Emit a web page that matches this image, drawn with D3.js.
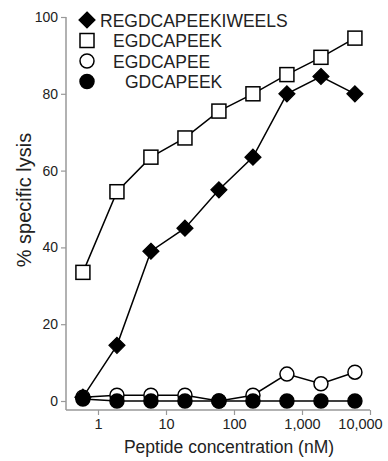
<!DOCTYPE html>
<html>
<head>
<meta charset="utf-8">
<script src="https://cdn.jsdelivr.net/npm/d3@7"></script>
<style>
body{margin:0;background:#fff;}
text{font-family:"Liberation Sans",Arial,sans-serif;fill:#222;}
</style>
</head>
<body>
<div id="chart"></div>
<script>
// concentrations in nM
var conc = [0.6, 1.9, 6, 19, 60, 190, 600, 1900, 6000];
var xTicks = [1, 10, 100, 1000, 10000];
var yTicks = [0, 20, 40, 60, 80, 100];

var diamondVals = [1, 14.5, 39, 45, 55, 63.5, 80, 84.5, 80];
var squareVals = [33.5, 54.5, 63.5, 68.5, 75.5, 80, 85, 89.5, 94.5];
var openVals = [1, 1.5, 1.5, 1.5, 0, 1.5, 7, 4.5, 7.5];
var filledVals = [0.5, 0, 0, 0, 0, 0, 0, 0, 0];

var legendNames = ["REGDCAPEEKIWEELS", "EGDCAPEEK", "EGDCAPEE", "GDCAPEEK"];

var width = 388, height = 461;

var svg = d3.select("#chart").append("svg")
	.attr("width", width)
	.attr("height", height);

var x = d3.scaleLog().domain([1, 10000]).range([98, 370]);
var y = d3.scaleLinear().domain([0, 100]).range([401, 17]);

var axisColor = "#999";

// y axis
var yAxis = d3.axisLeft(y).tickValues(yTicks).tickSize(5).tickPadding(3);
var gy = svg.append("g")
	.attr("transform", "translate(66,0)")
	.call(yAxis);
gy.select(".domain").remove();
gy.append("line")
	.attr("x1", 0).attr("x2", 0)
	.attr("y1", y(100)).attr("y2", 410)
	.attr("stroke", axisColor).attr("stroke-width", 1.5);
gy.selectAll(".tick line").attr("stroke", axisColor).attr("stroke-width", 1.2);
gy.selectAll(".tick text").style("font-size", "14px").attr("fill", "#222");

// x axis
var xAxis = d3.axisBottom(x).tickValues(xTicks).tickSize(5).tickPadding(4)
	.tickFormat(d3.format(","));
var gx = svg.append("g")
	.attr("transform", "translate(0,410)")
	.call(xAxis);
gx.select(".domain").remove();
gx.append("line")
	.attr("x1", 66).attr("x2", x(10000))
	.attr("y1", 0).attr("y2", 0)
	.attr("stroke", axisColor).attr("stroke-width", 1.5);
gx.selectAll(".tick line").attr("stroke", axisColor).attr("stroke-width", 1.2);
gx.selectAll(".tick text").style("font-size", "14.5px").attr("fill", "#222")
	.attr("dx", function(d){ return d == 10000 ? -10 : 0; });

// axis titles
svg.append("text")
	.attr("x", 229)
	.attr("y", 453)
	.style("text-anchor", "middle")
	.style("font-size", "17.5px")
	.text("Peptide concentration (nM)");

svg.append("text")
	.attr("transform", "translate(31,200) rotate(-90)")
	.style("text-anchor", "middle")
	.style("font-size", "20px")
	.text("% specific lysis");

var line = d3.line()
	.x(function(d){ return x(d[0]); })
	.y(function(d){ return y(d[1]); });

function pairs(vals){
	return conc.map(function(c, i){ return [c, vals[i]]; });
}

var series = [
	{vals: openVals, shape: "circle", fill: "#fff"},
	{vals: filledVals, shape: "circle", fill: "#000"},
	{vals: squareVals, shape: "square", fill: "#fff"},
	{vals: diamondVals, shape: "diamond", fill: "#000"}
];

function drawMarker(g, shape, fill, cx, cy){
	if(shape == "circle"){
		g.append("circle")
			.attr("cx", cx).attr("cy", cy).attr("r", 7)
			.attr("fill", fill).attr("stroke", "#000").attr("stroke-width", 1.5);
	}else if(shape == "square"){
		g.append("rect")
			.attr("x", cx - 7).attr("y", cy - 7)
			.attr("width", 14).attr("height", 14)
			.attr("fill", fill).attr("stroke", "#000").attr("stroke-width", 1.5);
	}else{
		var s = 8;
		g.append("path")
			.attr("d", "M" + cx + "," + (cy - s) + "L" + (cx + s) + "," + cy + "L" + cx + "," + (cy + s) + "L" + (cx - s) + "," + cy + "Z")
			.attr("fill", fill).attr("stroke", "#000").attr("stroke-width", 1.2);
	}
}

series.forEach(function(s){
	var data = pairs(s.vals);
	var g = svg.append("g");
	g.append("path")
		.datum(data)
		.attr("d", line)
		.attr("fill", "none")
		.attr("stroke", "#000")
		.attr("stroke-width", 1.5);
	data.forEach(function(d){
		drawMarker(g, s.shape, s.fill, x(d[0]), y(d[1]));
	});
});

// legend
var legendShapes = [
	{shape: "diamond", fill: "#000", tx: 100},
	{shape: "square", fill: "#fff", tx: 113},
	{shape: "circle", fill: "#fff", tx: 113},
	{shape: "circle", fill: "#000", tx: 125}
];
var lg = svg.append("g");
legendShapes.forEach(function(l, i){
	var cy = 20 + i * 20.5;
	drawMarker(lg, l.shape, l.fill, 87, cy);
	lg.append("text")
		.attr("x", l.tx)
		.attr("y", cy + 6.5)
		.style("font-size", "17.5px")
		.text(legendNames[i]);
});
</script>
</body>
</html>
